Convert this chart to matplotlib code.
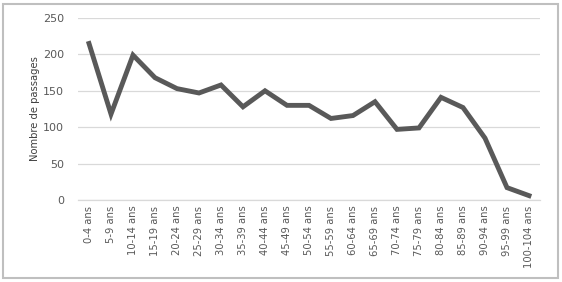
import matplotlib
matplotlib.use("Agg")
import matplotlib.pyplot as plt
from matplotlib.patches import Rectangle

categories = ["0-4 ans", "5-9 ans", "10-14 ans", "15-19 ans", "20-24 ans", "25-29 ans",
              "30-34 ans", "35-39 ans", "40-44 ans", "45-49 ans", "50-54 ans", "55-59 ans",
              "60-64 ans", "65-69 ans", "70-74 ans", "75-79 ans", "80-84 ans", "85-89 ans",
              "90-94 ans", "95-99 ans", "100-104 ans"]
values = [215, 118, 199, 168, 153, 147, 158, 128, 150, 130, 130, 112, 116, 135, 97, 99,
          141, 127, 85, 17, 6]
yticks = [0, 50, 100, 150, 200, 250]

W, H = 562, 282
fig = plt.figure(figsize=(W / 100, H / 100), dpi=100)
fig.patch.set_facecolor("white")
fig.patches.append(Rectangle((3 / W, 4 / H), 555 / W, 274 / H, transform=fig.transFigure,
                             fill=False, edgecolor="#bfbfbf", linewidth=1.5))

ax = fig.add_axes([78 / W, 1 - 200 / H, 462 / W, 182 / H])
x = list(range(len(categories)))
ax.plot(x, values, color="#595959", linewidth=3.5, solid_joinstyle="miter", zorder=3)
ax.set_xlim(-0.5, len(categories) - 0.5)
ax.set_ylim(0, 250)
ax.set_yticks(yticks)
ax.set_xticks(x)
ax.set_xticklabels(categories, rotation=90, fontsize=7.2, color="#595959")
ax.tick_params(axis="y", labelsize=8, colors="#595959", length=0, pad=10)
ax.tick_params(axis="x", length=0, pad=4)
ax.grid(axis="y", color="#d9d9d9", linewidth=0.9)
ax.set_axisbelow(True)
for s in ["top", "right", "left"]:
    ax.spines[s].set_visible(False)
ax.spines["bottom"].set_color("#d9d9d9")
ax.spines["bottom"].set_linewidth(0.9)
ax.set_ylabel("Nombre de passages", fontsize=7.2, color="#404040", labelpad=2)
fig.savefig("out.png", dpi=100)
